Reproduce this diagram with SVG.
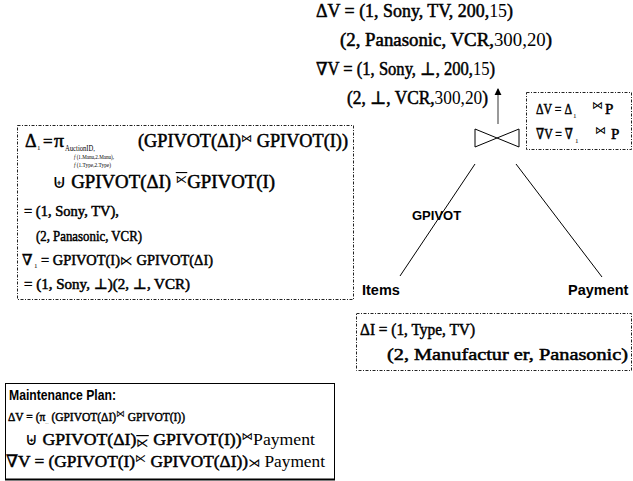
<svg xmlns="http://www.w3.org/2000/svg" width="633" height="481" viewBox="0 0 633 481">
  <style>
    .m { font-family: "Liberation Serif", "DejaVu Serif", serif; font-weight: normal; fill: #000; stroke: #000; stroke-width: 0.5; }
    .n { stroke: none; }
    .sym { font-family: "DejaVu Sans", "Liberation Serif", serif; font-weight: normal; stroke: none; }
    .bar { text-decoration: overline; }
    .lbl { font-family: "Liberation Sans", Arial, sans-serif; font-weight: bold; fill: #000; }
    .dash { fill: none; stroke: #222; stroke-width: 1; stroke-dasharray: 3 1.5 1 1.5; }
    .edge { stroke: #000; stroke-width: 1; fill: none; }
  </style>
  <defs>
    <marker id="tip" viewBox="0 0 8 8" refX="7" refY="4" markerWidth="6" markerHeight="6" orient="auto">
      <path d="M0,0 L8,4 L0,8 Z" fill="#000"/>
    </marker>
  </defs>
  <rect width="633" height="481" fill="#fff"/>

  <!-- view result tuples -->
  <g id="view-delta">
    <text class="m" x="316" y="17" font-size="18" textLength="197" lengthAdjust="spacingAndGlyphs">ΔV = (1, Sony, TV, 200,<tspan class="n">15</tspan>)</text>
    <text class="m" x="340" y="46" font-size="18" textLength="212" lengthAdjust="spacingAndGlyphs">(2, Panasonic, VCR,<tspan class="n">300,20</tspan>)</text>
    <text class="m" x="316" y="75" font-size="18" textLength="179" lengthAdjust="spacingAndGlyphs">∇V = (1, Sony, ⊥, 200,<tspan class="n">15</tspan>)</text>
    <text class="m" x="347" y="104" font-size="18" textLength="141" lengthAdjust="spacingAndGlyphs">(2, ⊥, VCR,<tspan class="n">300,20</tspan>)</text>
  </g>

  <!-- join operator -->
  <g id="join">
    <path class="edge" d="M475,129 L519,147 L519,129 L475,147 Z"/>
  </g>

  <!-- join rule box -->
  <g id="join-rule">
    <rect class="dash" x="526.5" y="92.5" width="105" height="57"/>
    <text class="m" x="536" y="114" font-size="15" textLength="36" lengthAdjust="spacingAndGlyphs">ΔV = Δ</text>
    <text class="m n" x="573" y="118" font-size="7">1</text>
    <text class="sym" x="592" y="109" font-size="11">⋈</text>
    <text class="m" x="605" y="114" font-size="15">P</text>
    <text class="m" x="536" y="139" font-size="15" textLength="37" lengthAdjust="spacingAndGlyphs">∇V = ∇</text>
    <text class="m n" x="575" y="143" font-size="7">1</text>
    <text class="sym" x="595" y="134" font-size="11">⋈</text>
    <text class="m" x="611" y="139" font-size="15">P</text>
  </g>

  <!-- GPIVOT derivation box -->
  <g id="gpivot-delta">
    <rect class="dash" x="17.5" y="125.5" width="336" height="174"/>
    <text class="m" x="25" y="147" font-size="18">Δ</text>
    <text class="m n" x="37" y="150" font-size="7">1</text>
    <text class="m" x="43" y="147" font-size="17">=</text>
    <text class="m" x="54" y="147" font-size="18" textLength="10" lengthAdjust="spacingAndGlyphs">π</text>
    <text class="m n" x="65" y="151" font-size="8" textLength="30" lengthAdjust="spacingAndGlyphs">AuctionID,</text>
    <text class="m n" x="74" y="159" font-size="6.5" textLength="40" lengthAdjust="spacingAndGlyphs"><tspan font-style="italic">f</tspan> (1.Manu,2.Manu),</text>
    <text class="m n" x="74" y="167" font-size="6.5" textLength="37" lengthAdjust="spacingAndGlyphs"><tspan font-style="italic">f</tspan> (1.Type,2.Type)</text>
    <text class="m" x="138" y="147" font-size="18" textLength="210" lengthAdjust="spacingAndGlyphs">(GPIVOT(ΔI)<tspan class="sym" font-size="11" dy="-5">⋈</tspan><tspan dy="5"> GPIVOT(I))</tspan></text>
    <text class="m" x="52" y="188" font-size="18" textLength="223" lengthAdjust="spacingAndGlyphs"><tspan class="sym" font-size="19">⊎</tspan> GPIVOT(ΔI) <tspan class="sym bar" font-size="11" dy="-5">⋉</tspan><tspan dy="5">GPIVOT(I)</tspan></text>
    <text class="m" x="24" y="216" font-size="14.5" textLength="95" lengthAdjust="spacingAndGlyphs">= (1, Sony, TV),</text>
    <text class="m" x="36" y="241" font-size="14.5" textLength="106" lengthAdjust="spacingAndGlyphs">(2, Panasonic, VCR)</text>
    <text class="m" x="22" y="265" font-size="15">∇</text>
    <text class="m n" x="34" y="268" font-size="7">1</text>
    <text class="m" x="41" y="265" font-size="14.5" textLength="172" lengthAdjust="spacingAndGlyphs">= GPIVOT(I)<tspan class="sym" font-size="13">⋉</tspan> GPIVOT(ΔI)</text>
    <text class="m" x="24" y="289" font-size="14.5" textLength="166" lengthAdjust="spacingAndGlyphs">= (1, Sony, ⊥)(2, ⊥, VCR)</text>
  </g>

  <!-- plan edges and arrow -->
  <g id="connectors">
    <line x1="498" y1="124" x2="498" y2="89" stroke="#555" stroke-width="1.2" marker-end="url(#tip)"/>
    <line class="edge" x1="475" y1="164" x2="400" y2="276"/>
    <line class="edge" x1="516" y1="164" x2="602" y2="277"/>
  </g>

  <g id="gpivot-label">
    <text class="lbl" x="412" y="220" font-size="13">GPIVOT</text>
  </g>
  <g id="items">
    <text class="lbl" x="362" y="295" font-size="14.5">Items</text>
  </g>
  <g id="payment">
    <text class="lbl" x="568" y="295" font-size="14.5">Payment</text>
  </g>

  <!-- delta of Items -->
  <g id="items-delta">
    <rect class="dash" x="356.5" y="313.5" width="275" height="57"/>
    <text class="m" x="360" y="335" font-size="17" textLength="115" lengthAdjust="spacingAndGlyphs">ΔI = (1, Type, TV)</text>
    <text class="m" x="387" y="360" font-size="17" textLength="241" lengthAdjust="spacingAndGlyphs">(2, Manufactur er, Panasonic)</text>
  </g>

  <!-- maintenance plan -->
  <g id="maintenance-plan">
    <rect x="5.5" y="383.5" width="329" height="96" fill="none" stroke="#000" stroke-width="1"/>
    <line x1="5" y1="479.5" x2="335" y2="479.5" stroke="#000" stroke-width="2"/>
    <text class="lbl" x="9" y="400" font-size="14" textLength="107" lengthAdjust="spacingAndGlyphs">Maintenance Plan:</text>
    <text class="m" x="8" y="421" font-size="13" textLength="177" lengthAdjust="spacingAndGlyphs">ΔV = (π<tspan class="n" font-size="5" dy="3">...</tspan><tspan dy="-3"> (GPIVOT(ΔI)</tspan><tspan class="sym" font-size="10" dy="-4">⋈</tspan><tspan dy="4"> GPIVOT(I))</tspan></text>
    <text class="m" x="25" y="445" font-size="17" textLength="290" lengthAdjust="spacingAndGlyphs"><tspan class="sym" font-size="17">⊎</tspan> GPIVOT(ΔI)<tspan class="sym bar" font-size="12" dy="2">⋉</tspan><tspan dy="-2"> GPIVOT(I))</tspan><tspan class="sym" font-size="11" dy="-5">⋈</tspan><tspan class="n" dy="5">Payment</tspan></text>
    <text class="m" x="6" y="467" font-size="17" textLength="319" lengthAdjust="spacingAndGlyphs">∇V = (GPIVOT(I)<tspan class="sym" font-size="11" dy="-5">⋉</tspan><tspan dy="5"> GPIVOT(ΔI))</tspan><tspan class="sym" font-size="12">⋊</tspan><tspan class="n"> Payment</tspan></text>
  </g>
</svg>
